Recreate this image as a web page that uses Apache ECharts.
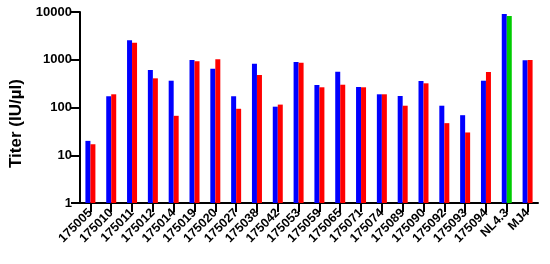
<!DOCTYPE html>
<html>
<head>
<meta charset="utf-8">
<script src="https://cdn.jsdelivr.net/npm/echarts@6/dist/echarts.min.js"></script>
<style>html,body{margin:0;padding:0;background:#fff}#c{width:550px;height:264px}</style>
</head>
<body>
<div id="c"></div>
<script>
const categories = ['175005','175010','175011','175012','175014','175019','175020','175027','175038','175042','175053','175059','175065','175071','175074','175089','175090','175092','175093','175094','NL4.3','MJ4'];
const blueValues = [20,172,2550,610,364,988,650,172,826,104,897,296,562,269,189,174,359,109,69,364,9080,973];
const secondValues = [17,189,2280,408,67,928,1021,94,479,115,868,265,300,265,189,109,321,47,30,554,8250,988];
const greenCategory = 'NL4.3';
const yTicks = [1,10,100,1000,10000];
const yTitle = 'Titer (IU/µl)';

const chart = echarts.init(document.getElementById('c'));
const font = 'Liberation Sans, Arial, Helvetica, sans-serif';
chart.setOption({
  animation:false,
  grid:{left:80, right:12, top:12, bottom:61},
  graphic:[{type:'text', rotation:Math.PI/2, style:{text:yTitle, fill:'#000', font:'bold 17px ' + font}, x:8, y:168}],
  xAxis:{
    type:'category', data:categories,
    axisLine:{show:true, lineStyle:{color:'#000', width:2}},
    axisTick:{show:true, alignWithLabel:true, length:9, lineStyle:{color:'#000', width:2}},
    axisLabel:{rotate:45, interval:0, color:'#000', fontWeight:'bold', fontSize:12.5, fontFamily:font}
  },
  yAxis:{
    type:'log', min:yTicks[0], max:yTicks[yTicks.length-1],
    axisLine:{show:true, lineStyle:{color:'#000', width:2}},
    axisTick:{show:true, length:9, lineStyle:{color:'#000', width:2}},
    splitLine:{show:false},
    axisLabel:{color:'#000', fontWeight:'bold', fontSize:13, fontFamily:font, formatter:v=>String(Math.round(v))}
  },
  series:[
    {type:'bar', data:blueValues, barWidth:5, barGap:'0%', itemStyle:{color:'#0000FF'}},
    {type:'bar', data:secondValues.map((v,i)=>({value:v, itemStyle:{color: categories[i]===greenCategory ? '#00CC00' : '#FF0000'}})), barWidth:5, barGap:'0%'}
  ]
});
</script>
</body>
</html>
